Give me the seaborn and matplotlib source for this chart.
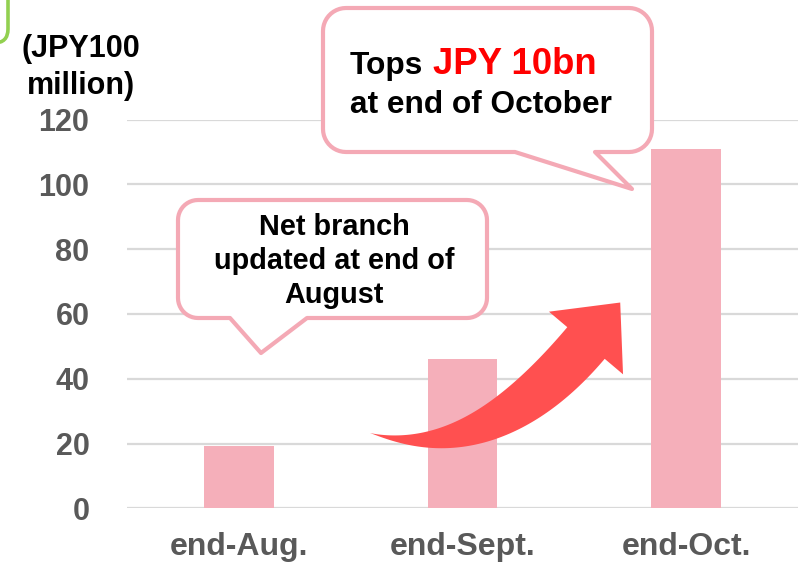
import numpy as np
import matplotlib
matplotlib.use("Agg")
import matplotlib.pyplot as plt
import seaborn as sns
from matplotlib.patches import Polygon, FancyBboxPatch

# data
months = ["end-Aug.", "end-Sept.", "end-Oct."]
balance = [19.3, 46.0, 110.8]
y_ticks = [0, 20, 40, 60, 80, 100, 120]
unit_label = ["(JPY100", "million)"]
note_aug = "Net branch\nupdated at end of\nAugust"
note_oct = ["Tops", "JPY 10bn", "at end of October"]

PINK = "#F5AFBA"
EDGE = "#F4A9B5"
GRAY = "#595959"

sns.set_theme(style="white")
plt.rcParams["font.family"] = ["Liberation Sans", "DejaVu Sans"]
plt.rcParams["font.weight"] = "bold"

W, H = 798, 562
fig = plt.figure(figsize=(W / 100, H / 100), dpi=100)
ax = fig.add_axes([127 / W, 1 - 508.3 / H, 1 - 127 / W, (508.3 - 119.5) / H])

sns.barplot(x=months, y=balance, color=PINK, saturation=1, width=0.31,
            linewidth=0, ax=ax)
ax.set_xlim(-0.5, 2.5)
ax.set_ylim(0, 120)
ax.set_yticks(y_ticks)
ax.yaxis.grid(True, color="#D9D9D9", lw=1.6)
ax.set_axisbelow(True)
for s in ax.spines.values():
    s.set_visible(False)
ax.tick_params(length=0, colors=GRAY)
ax.tick_params(axis="y", labelsize=22, pad=27)
ax.tick_params(axis="x", labelsize=23, pad=17)
for lbl in ax.get_xticklabels() + ax.get_yticklabels():
    lbl.set_fontweight("bold")
ax.set_xlabel("")
ax.set_ylabel("")

# overlay in pixel coords for the callouts and arrow
ov = fig.add_axes([0, 0, 1, 1])
ov.set_xlim(0, W)
ov.set_ylim(H, 0)
ov.axis("off")


def arc(cx, cy, r, a0, a1):
    a = np.radians(np.linspace(a0, a1, 12))
    return np.column_stack([cx + r * np.cos(a), cy + r * np.sin(a)])


def bubble(x0, y0, x1, y1, r, b0, b1, tip):
    pts = [arc(x0 + r, y0 + r, r, 180, 270),
           arc(x1 - r, y0 + r, r, 270, 360),
           arc(x1 - r, y1 - r, r, 0, 90),
           np.array([[b1, y1], tip, [b0, y1]]),
           arc(x0 + r, y1 - r, r, 90, 180)]
    ov.add_patch(Polygon(np.vstack(pts), closed=True, fc="white", ec=EDGE,
                         lw=3, zorder=3, joinstyle="round"))


def curved_arrow(p0, p1, p2, w_end, head_w, head_len, color):
    t = np.linspace(0, 1, 80)
    P0, P1, P2 = map(np.array, (p0, p1, p2))
    pts = ((1 - t) ** 2)[:, None] * P0 + (2 * (1 - t) * t)[:, None] * P1 + (t ** 2)[:, None] * P2
    der = (2 * (1 - t))[:, None] * (P1 - P0) + (2 * t)[:, None] * (P2 - P1)
    d = der / np.linalg.norm(der, axis=1)[:, None]
    n = np.column_stack([d[:, 1], -d[:, 0]])
    w = w_end * np.sin(np.pi / 2 * t) ** 1.2 / 2
    left = pts + n * w[:, None]
    right = pts - n * w[:, None]
    de, ne = d[-1], n[-1]
    head = [P2 + ne * head_w / 2, P2 + de * head_len, P2 - ne * head_w / 2]
    poly = np.vstack([left, head, right[::-1]])
    ov.add_patch(Polygon(poly, closed=True, fc=color, ec="none", zorder=5))


# green frame corner (cut off at top left)
ov.add_patch(FancyBboxPatch((-60, -60), 68, 103, boxstyle="round,pad=0,rounding_size=14",
                            fc="none", ec="#92D050", lw=2.6, zorder=2))

# unit label
ov.text(81, 57, unit_label[0], ha="center", va="baseline", fontsize=22, color="black")
ov.text(81, 94, unit_label[1], ha="center", va="baseline", fontsize=22, color="black")

# callout for August
bubble(178, 200, 487, 318, 20, 230, 307, (261, 353))
for i, line in enumerate(note_aug.split("\n")):
    ov.text(334, 235 + 34 * i, line, ha="center", va="baseline", fontsize=20.8,
            color="black", zorder=4)

# callout for October
bubble(323, 8, 652, 152, 23, 515, 595, (632, 189))
ov.text(350, 74, note_oct[0], ha="left", va="baseline", fontsize=22.8,
        color="black", zorder=4)
ov.text(433, 74, note_oct[1], ha="left", va="baseline", fontsize=26.3,
        color="#FF0000", zorder=4)
ov.text(350, 113, note_oct[2], ha="left", va="baseline", fontsize=22.8,
        color="black", zorder=4)

# red growth arrow
curved_arrow((370, 433), (482, 466), (586, 343), 49, 97, 53, "#FF5050")

fig.savefig("out.png", dpi=100)
